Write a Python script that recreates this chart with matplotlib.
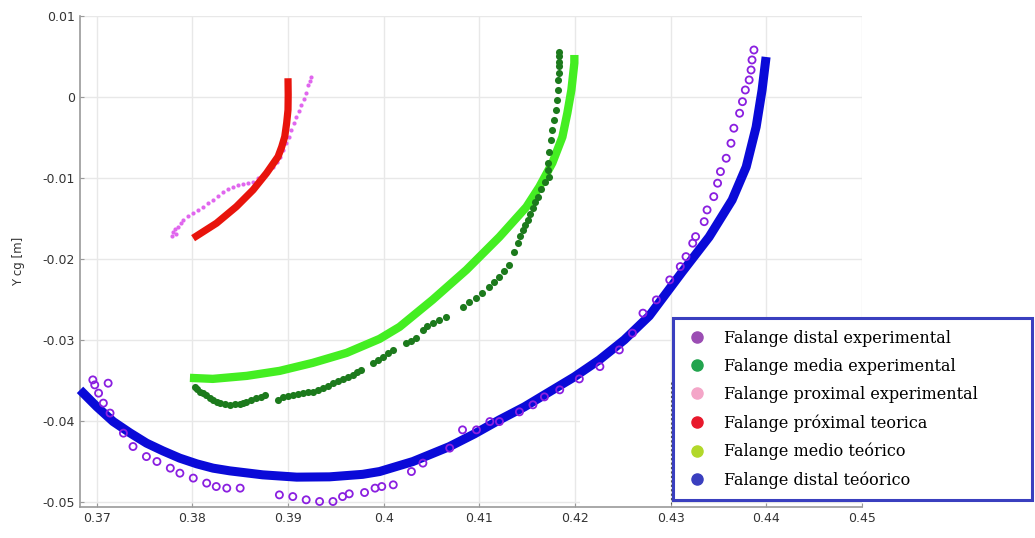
import numpy as np
import matplotlib.pyplot as plt
from matplotlib.lines import Line2D
from matplotlib.patches import Rectangle

# Falange distal experimental
dist_exp_x = [0.3696, 0.3698, 0.3712, 0.3702, 0.3707, 0.3714, 0.3728, 0.3738, 0.3752, 0.3763,
              0.3777, 0.3787, 0.3801, 0.3815, 0.3825, 0.3836, 0.3850, 0.3891, 0.3905, 0.3919,
              0.3933, 0.3947, 0.3957, 0.3964, 0.3980, 0.3991, 0.3998, 0.4010, 0.4029, 0.4041,
              0.4069, 0.40824, 0.4097, 0.4111, 0.4121, 0.41419, 0.4156, 0.41680, 0.4184,
              0.42045, 0.4226, 0.42463, 0.4260, 0.4271, 0.4285,
              0.4299, 0.4310, 0.4316, 0.4323, 0.4326, 0.4335, 0.4338, 0.4345, 0.4349, 0.4352,
              0.4358, 0.4363, 0.4366, 0.4372, 0.4375, 0.4378, 0.4382, 0.4384, 0.4385, 0.4387]
dist_exp_y = [-0.03494, -0.03556, -0.03535, -0.03658, -0.03781, -0.03904, -0.04152, -0.04317, -0.04441, -0.04502,
              -0.04584, -0.04646, -0.04707, -0.04769, -0.04811, -0.04831, -0.04831, -0.04914, -0.04935, -0.04975,
              -0.04996, -0.04996, -0.04935, -0.04901, -0.04885, -0.04831, -0.04811, -0.04790, -0.04626, -0.04522,
              -0.04337, -0.04111, -0.04111, -0.04009, -0.04009, -0.03889, -0.03802, -0.03704, -0.03617,
              -0.03482, -0.03330, -0.03124, -0.02917, -0.02670, -0.02506,
              -0.02259, -0.02095, -0.01972, -0.01806, -0.01725, -0.01540, -0.01395, -0.01231, -0.01065, -0.00922,
              -0.00757, -0.00572, -0.00386, -0.00201, -0.00058, 0.00086, 0.00210, 0.00333, 0.00457, 0.00580]

# Falange media experimental
media_exp_x = [0.38026, 0.38047, 0.38078, 0.38110, 0.38148, 0.38183, 0.38217, 0.38256, 0.38287, 0.38339,
               0.38391, 0.38444, 0.38496, 0.38527, 0.38566, 0.38611, 0.38670, 0.38715, 0.38757,
               0.38896, 0.38948, 0.38997, 0.39052, 0.39101, 0.39157, 0.39206, 0.39261, 0.39310, 0.39365,
               0.39414, 0.39470, 0.39519, 0.39574, 0.39623, 0.39678, 0.39717, 0.39766,
               0.39887, 0.39936, 0.39992, 0.40041, 0.40096,
               0.40236, 0.40281, 0.40340, 0.40409, 0.40458, 0.40513, 0.40583, 0.40653,
               0.40827, 0.40896, 0.40966, 0.41032, 0.41105, 0.41158, 0.41210, 0.41262, 0.41314,
               0.41366, 0.41401, 0.41429, 0.41453, 0.41481, 0.41505, 0.41533, 0.41557, 0.41585, 0.41609,
               0.41647, 0.41689, 0.41731, 0.41721, 0.41714, 0.41731, 0.41749, 0.41763, 0.41784, 0.41802,
               0.41810, 0.41818, 0.41826, 0.41829, 0.41836, 0.41836, 0.41836, 0.41836]
media_exp_y = [-0.035766, -0.036050, -0.036384, -0.036544, -0.036791, -0.037161, -0.037408, -0.037655, -0.037816, -0.037964,
               -0.038026, -0.037964, -0.037902, -0.037779, -0.037618, -0.037408, -0.037198, -0.037037, -0.036791,
               -0.037408, -0.037000, -0.036914, -0.036791, -0.036667, -0.036581, -0.036482, -0.036383, -0.036173, -0.035964,
               -0.035680, -0.035347, -0.035063, -0.034853, -0.034569, -0.034322, -0.034014, -0.033705,
               -0.032877, -0.032470, -0.032062, -0.031605, -0.031235,
               -0.030408, -0.030124, -0.029791, -0.028766, -0.028334, -0.027939, -0.027531, -0.027124,
               -0.025890, -0.025371, -0.024852, -0.024198, -0.023420, -0.022840, -0.022186, -0.021482, -0.020741,
               -0.019099, -0.018062, -0.017161, -0.016420, -0.015803, -0.015185, -0.014445, -0.013741, -0.012963, -0.012309,
               -0.011358, -0.010494, -0.009840, -0.009013, -0.008185, -0.006790, -0.005308, -0.004074, -0.002839, -0.001605,
               -0.000370, 0.000864, 0.002099, 0.002926, 0.003827, 0.004358, 0.005062, 0.005593]

# Falange proximal experimental
prox_exp_x = [0.37787, 0.37800, 0.37828, 0.37817, 0.37852, 0.37880, 0.37904, 0.37953, 0.38008, 0.38057,
              0.38113, 0.38162, 0.38217, 0.38266, 0.38321, 0.38371, 0.38426, 0.38475, 0.38530, 0.38579,
              0.38635, 0.38684, 0.38739, 0.38788, 0.38843, 0.38882, 0.38913, 0.38950, 0.38983, 0.39007,
              0.39035, 0.39059, 0.39088, 0.39112, 0.39140, 0.39164, 0.39192, 0.39209, 0.39226, 0.39244]
prox_exp_y = [-0.017161, -0.016630, -0.016914, -0.016296, -0.016013, -0.015556, -0.015185, -0.014753, -0.014358, -0.013951,
              -0.013543, -0.013148, -0.012716, -0.012222, -0.011692, -0.011358, -0.011074, -0.010926, -0.010741, -0.010617,
              -0.010457, -0.010062, -0.009630, -0.009136, -0.008605, -0.008025, -0.007370, -0.006543, -0.005716, -0.004938,
              -0.004074, -0.003210, -0.002432, -0.001728, -0.000988, -0.000247, 0.000457, 0.001482, 0.001975, 0.002506]

# Falange proximal teorica
prox_teo_x = [0.38008, 0.38253, 0.38461, 0.38635, 0.38775, 0.38896, 0.38934, 0.38966, 0.38986, 0.39000, 0.39002, 0.39000]
prox_teo_y = [-0.01744, -0.01559, -0.01354, -0.01148, -0.00942, -0.00737, -0.00617, -0.00490, -0.00321, -0.00160, 0.00025, 0.00231]

# Falange medio teorico
media_teo_x = [0.37975, 0.38214, 0.38569, 0.38913, 0.39258, 0.39613, 0.39957, 0.40166, 0.40510, 0.40865,
               0.41210, 0.41492, 0.41627, 0.41763, 0.41868, 0.41920, 0.41962, 0.41993, 0.41993]
media_teo_y = [-0.034692, -0.034815, -0.034445, -0.033827, -0.032840, -0.031605, -0.029877, -0.028395, -0.025062, -0.021358,
               -0.017284, -0.013580, -0.011111, -0.008148, -0.004938, -0.001975, 0.000864, 0.004198, 0.005185]

# Falange distal teorico
dist_teo_x = [0.36826, 0.37000, 0.37173, 0.37348, 0.37522, 0.37692, 0.37869, 0.38047, 0.38217, 0.38391,
              0.38736, 0.39091, 0.39435, 0.39780, 0.39957, 0.40305, 0.40688, 0.40949, 0.41210, 0.41471,
              0.41732, 0.41993, 0.42254, 0.42515, 0.42776, 0.43120, 0.43402, 0.43642, 0.43789, 0.43893,
              0.43955, 0.43997]
dist_teo_y = [-0.036173, -0.038235, -0.040087, -0.041482, -0.042754, -0.043705, -0.044606, -0.045310, -0.045841, -0.046174,
              -0.046667, -0.046951, -0.046914, -0.046606, -0.046260, -0.045026, -0.043174, -0.041606, -0.039878, -0.038272,
              -0.036420, -0.034568, -0.032470, -0.030000, -0.027037, -0.021605, -0.017284, -0.012716, -0.008642, -0.003704,
              0.000864, 0.004938]

labels = ["Falange distal experimental", "Falange media experimental",
          "Falange proximal experimental", "Falange próximal teorica",
          "Falange medio teórico", "Falange distal teóorico"]
legend_colors = ["#9b4db3", "#22a44e", "#f4a6c8", "#e8192c", "#b2d82a", "#3a3fbf"]

x_ticks = [0.37, 0.38, 0.39, 0.40, 0.41, 0.42, 0.43, 0.44, 0.45]
x_labels = ["0.37", "0.38", "0.39", "0.4", "0.41", "0.42", "0.43", "0.44", "0.45"]
y_ticks = [-0.05, -0.04, -0.03, -0.02, -0.01, 0.0, 0.01]
y_labels = ["-0.05", "-0.04", "-0.03", "-0.02", "-0.01", "0", "0.01"]

fig = plt.figure(figsize=(10.35, 5.38), dpi=100)
ax = fig.add_axes([0.0773, 0.0582, 0.7556, 0.9121])

line_kw = dict(solid_joinstyle="round", solid_capstyle="butt", zorder=3)
# theoretical curves
ax.plot(prox_teo_x, prox_teo_y, color="#e8140c", lw=5.2, **line_kw)
ax.plot(media_teo_x, media_teo_y, color="#44ee22", lw=6, **line_kw)
ax.plot(dist_teo_x, dist_teo_y, color="#0a0ad8", lw=6.5, clip_on=False, **line_kw)

# experimental points
ax.scatter(prox_exp_x, prox_exp_y, s=9, color="#e066ee", zorder=2.5, linewidths=0)
ax.scatter(media_exp_x, media_exp_y, s=26, color="#1c7a1c", zorder=4, linewidths=0)
ax.scatter(dist_exp_x, dist_exp_y, s=26, facecolors="none", edgecolors="#8a1fe0",
           linewidths=1.3, zorder=4)

# blank patch over the grid, with dashed edge
ax.add_patch(Rectangle((0.4205, -0.0506), 0.0095, 0.0154, facecolor="white",
                       edgecolor="none", zorder=1))
ax.plot([0.43, 0.43], [-0.0352, -0.0503], color="#555555", lw=0.8,
        ls=(0, (2, 2)), zorder=2)

ax.set_xlim(0.36826, 0.45)
ax.set_ylim(-0.0506, 0.01)
ax.set_xticks(x_ticks)
ax.set_xticklabels(x_labels)
ax.set_yticks(y_ticks)
ax.set_yticklabels(y_labels)
ax.grid(True, color="#e8e8e8", lw=1)
ax.set_axisbelow(True)
for s in ["top", "right"]:
    ax.spines[s].set_visible(False)
for s in ["left", "bottom"]:
    ax.spines[s].set_color("#9a9a9a")
    ax.spines[s].set_linewidth(1.2)
ax.tick_params(direction="in", length=3, color="#9a9a9a", labelsize=9,
               labelcolor="#333333")
ax.set_ylabel("Y cg [m]", fontsize=8.5, color="#333333", labelpad=13)

handles = [Line2D([], [], ls="none", marker="o", markersize=8, color=c) for c in legend_colors]
leg = fig.legend(handles, labels, loc="upper left",
                 bbox_to_anchor=(0.6502, 0.0762, 0.3469, 0.3327), mode="expand",
                 borderaxespad=0, fancybox=False, framealpha=1,
                 prop={"family": "DejaVu Serif", "size": 11.5},
                 borderpad=0.72, handlelength=1.6, handletextpad=0.9, labelspacing=0.7)
leg.get_frame().set_edgecolor("#3a3fbf")
leg.get_frame().set_linewidth(2.2)

fig.savefig("out.png", dpi=100)
